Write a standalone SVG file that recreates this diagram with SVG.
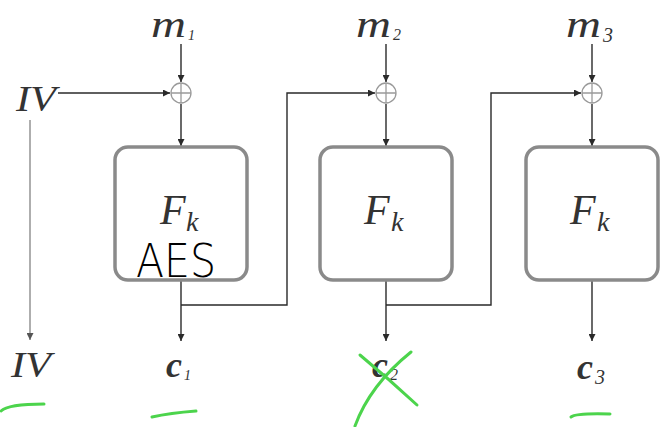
<svg xmlns="http://www.w3.org/2000/svg" width="662" height="427" viewBox="0 0 662 427">
<style>
.box{fill:#fff;stroke:#8a8a8a;stroke-width:3.5}
.xor{fill:none;stroke:#9a9a9a;stroke-width:1.3}
.ln{fill:none;stroke:#2a2a2a;stroke-width:1.4}
.gl{fill:none;stroke:#9a9a9a;stroke-width:1.6}
.m{font-family:"Liberation Serif",serif;font-style:italic;fill:#333}
.g{fill:none;stroke:#4cd44c;stroke-width:3;stroke-linecap:round}
</style>
<defs>
<marker id="ah" viewBox="0 0 10 10" refX="10" refY="5" markerWidth="7" markerHeight="7" markerUnits="userSpaceOnUse" orient="auto">
<path d="M0,0 L10,5 L0,10 z" fill="#2a2a2a"/>
</marker>
<marker id="ahg" viewBox="0 0 10 10" refX="10" refY="5" markerWidth="7" markerHeight="7" markerUnits="userSpaceOnUse" orient="auto">
<path d="M0,0 L10,5 L0,10 z" fill="#555"/>
</marker>
</defs>
<rect width="662" height="427" fill="#fff"/>

<g id="connectors">
<line class="ln" x1="181" y1="44" x2="181" y2="82" marker-end="url(#ah)"/>
<line class="ln" x1="386" y1="44" x2="386" y2="82" marker-end="url(#ah)"/>
<line class="ln" x1="592" y1="44" x2="592" y2="82" marker-end="url(#ah)"/>
<line class="ln" x1="181" y1="104" x2="181" y2="146" marker-end="url(#ah)"/>
<line class="ln" x1="386" y1="104" x2="386" y2="146" marker-end="url(#ah)"/>
<line class="ln" x1="592" y1="104" x2="592" y2="146" marker-end="url(#ah)"/>
<line class="ln" x1="58" y1="93" x2="170" y2="93" marker-end="url(#ah)"/>
<line class="gl" x1="30" y1="120" x2="30" y2="340" marker-end="url(#ahg)"/>
<line class="ln" x1="181" y1="280" x2="181" y2="341" marker-end="url(#ah)"/>
<line class="ln" x1="386" y1="280" x2="386" y2="341" marker-end="url(#ah)"/>
<line class="ln" x1="592" y1="280" x2="592" y2="341" marker-end="url(#ah)"/>
<polyline class="ln" points="181,305 287,305 287,93 375,93" marker-end="url(#ah)"/>
<polyline class="ln" points="386,305 491,305 491,93 581,93" marker-end="url(#ah)"/>
</g>

<g id="xor1"><circle class="xor" cx="181" cy="93" r="10"/><path class="xor" d="M171,93 H191 M181,83 V103"/></g>
<g id="xor2"><circle class="xor" cx="386" cy="93" r="10"/><path class="xor" d="M376,93 H396 M386,83 V103"/></g>
<g id="xor3"><circle class="xor" cx="592" cy="93" r="10"/><path class="xor" d="M582,93 H602 M592,83 V103"/></g>

<g id="box1"><rect class="box" x="115" y="147" width="132" height="133" rx="13"/>
<text class="m" x="160" y="224" font-size="42" fill="#444">F</text><text class="m" x="186" y="231" font-size="28">k</text>
<text x="136" y="277" font-family="DejaVu Sans,sans-serif" font-weight="200" font-size="46" textLength="80" lengthAdjust="spacingAndGlyphs" fill="#000">AES</text></g>
<g id="box2"><rect class="box" x="320" y="147" width="132" height="133" rx="13"/>
<text class="m" x="364" y="224" font-size="42">F</text><text class="m" x="391" y="231" font-size="28">k</text></g>
<g id="box3"><rect class="box" x="526" y="147" width="132" height="133" rx="13"/>
<text class="m" x="570" y="224" font-size="42">F</text><text class="m" x="597" y="231" font-size="28">k</text></g>

<g id="m1"><text class="m" x="151" y="37" font-size="38" textLength="35" lengthAdjust="spacingAndGlyphs">m</text><text class="m" x="188" y="40" font-size="14">1</text></g>
<g id="m2"><text class="m" x="356" y="37" font-size="38" textLength="35" lengthAdjust="spacingAndGlyphs">m</text><text class="m" x="393" y="40" font-size="16">2</text></g>
<g id="m3"><text class="m" x="566" y="37" font-size="38" textLength="35" lengthAdjust="spacingAndGlyphs">m</text><text class="m" x="603" y="42" font-size="20">3</text></g>
<g id="iv1"><text class="m" x="16" y="111" font-size="36" textLength="40" lengthAdjust="spacingAndGlyphs">IV</text></g>
<g id="iv2"><text class="m" x="11" y="377" font-size="36" textLength="40" lengthAdjust="spacingAndGlyphs">IV</text></g>
<g id="c1"><text class="m" x="166" y="377" font-size="36" font-weight="bold">c</text><text class="m" x="184" y="380" font-size="14">1</text></g>
<g id="c2"><text class="m" x="372" y="377" font-size="36" font-weight="bold">c</text><text class="m" x="390" y="380" font-size="16">2</text></g>
<g id="c3"><text class="m" x="577" y="379" font-size="36" font-weight="bold">c</text><text class="m" x="595" y="384" font-size="20">3</text></g>

<g id="annotations">
<path class="g" d="M1,411 Q8,404 44,404"/>
<path class="g" d="M152,417 Q170,413 196,411"/>
<path class="g" d="M360,355 Q390,380 417,405"/>
<path class="g" d="M411,352 Q370,385 355,426"/>
<path class="g" d="M571,417 Q576,413 610,414"/>
</g>
</svg>
